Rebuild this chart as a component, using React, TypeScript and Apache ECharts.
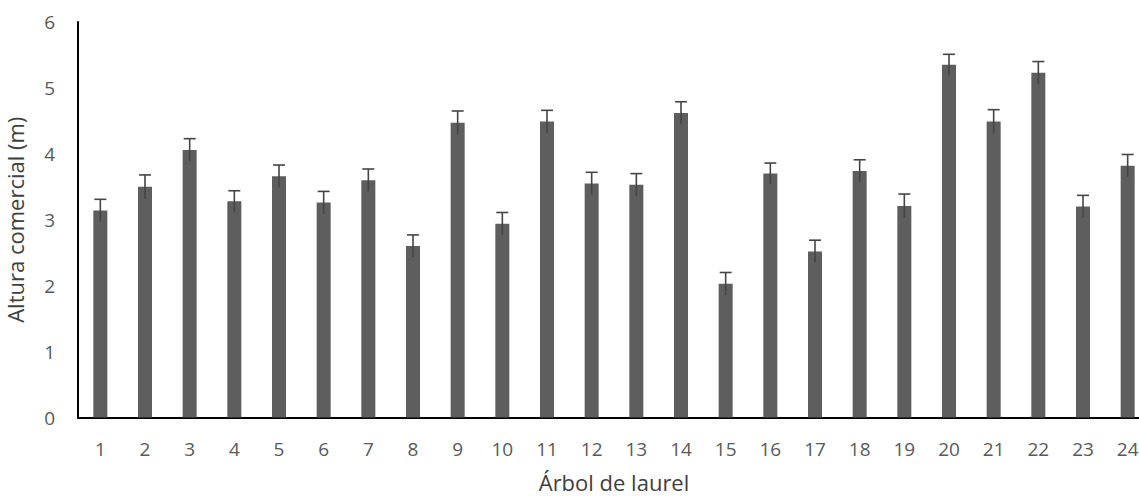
import React, { useEffect, useRef } from "react";
import * as echarts from "echarts";

const categories = ["1","2","3","4","5","6","7","8","9","10","11","12","13","14","15","16","17","18","19","20","21","22","23","24"];
const heights = [3.14,3.50,4.06,3.28,3.66,3.26,3.60,2.60,4.47,2.94,4.49,3.55,3.53,4.62,2.03,3.70,2.52,3.74,3.21,5.35,4.49,5.23,3.20,3.82];
const errors = [0.17,0.18,0.17,0.16,0.17,0.17,0.17,0.17,0.18,0.17,0.17,0.17,0.17,0.17,0.17,0.16,0.17,0.17,0.18,0.16,0.18,0.17,0.17,0.17];
const yTicks = [0, 1, 2, 3, 4, 5, 6];

const FONT = "'Open Sans', sans-serif";

export default function App() {
  const ref = useRef<HTMLDivElement>(null);
  useEffect(() => {
    const chart = echarts.init(ref.current!, null, { renderer: "svg" });
    const errData = heights.map((h, i) => [i, h - errors[i], h + errors[i]]);
    chart.setOption({
      animation: false,
      grid: { left: 78, top: 22, width: 1072, height: 395.5, containLabel: false, outerBoundsMode: "none" },
      xAxis: {
        type: "category",
        data: categories,
        axisLine: { show: true, lineStyle: { color: "#000", width: 2 } },
        axisTick: { show: false },
        axisLabel: { color: "#595959", fontSize: 19, fontFamily: FONT, margin: 22 },
        name: "Árbol de laurel",
        nameLocation: "middle",
        nameGap: 53,
        nameTextStyle: { color: "#404040", fontSize: 22, fontFamily: FONT },
      },
      yAxis: {
        type: "value",
        min: yTicks[0],
        max: yTicks[yTicks.length - 1],
        interval: 1,
        axisLine: { show: true, lineStyle: { color: "#000", width: 2 } },
        axisTick: { show: false },
        splitLine: { show: false },
        axisLabel: { color: "#595959", fontSize: 19, fontFamily: FONT, margin: 23 },
        name: "Altura comercial (m)",
        nameLocation: "middle",
        nameGap: 52,
        nameTextStyle: { color: "#404040", fontSize: 22, fontFamily: FONT },
      },
      series: [
        {
          type: "bar",
          data: heights,
          barWidth: 14,
          itemStyle: { color: "#5e5e5e" },
        },
        {
          type: "custom",
          data: errData,
          z: 10,
          renderItem: (params: any, api: any) => {
            const x = api.value(0);
            const lo = api.coord([x, api.value(1)]);
            const hi = api.coord([x, api.value(2)]);
            const half = 6;
            const style = { stroke: "#454545", lineWidth: 1.6 };
            return {
              type: "group",
              children: [
                { type: "line", shape: { x1: hi[0], y1: hi[1], x2: lo[0], y2: lo[1] }, style },
                { type: "line", shape: { x1: hi[0] - half, y1: hi[1], x2: hi[0] + half, y2: hi[1] }, style },
              ],
            };
          },
        },
      ],
    });
    return () => chart.dispose();
  }, []);
  return <div ref={ref} style={{ position: "fixed", left: 0, top: 0, width: 1139, height: 497, background: "#fff" }} />;
}
